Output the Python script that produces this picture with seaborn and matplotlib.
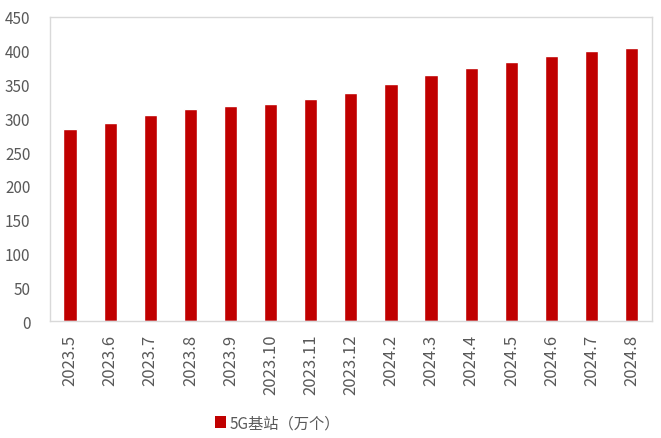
import pandas as pd
import seaborn as sns
import matplotlib.pyplot as plt
from matplotlib.patches import Patch

# Data
months = ['2023.5', '2023.6', '2023.7', '2023.8', '2023.9', '2023.10', '2023.11',
          '2023.12', '2024.2', '2024.3', '2024.4', '2024.5', '2024.6', '2024.7', '2024.8']
stations = [284.4, 293.7, 305.5, 313.1, 318.9, 321.5, 328.2,
            337.7, 350.9, 364.7, 374.8, 383.7, 391.7, 399.6, 404.2]
series_name = '5G基站（万个）'

df = pd.DataFrame({'month': months, 'value': stations})

sns.set_style('white')
plt.rcParams['font.family'] = ['Noto Sans CJK SC', 'DejaVu Sans']

fig = plt.figure(figsize=(6.61, 4.39), dpi=100)
ax = fig.add_axes([0.0756, 0.2665, 0.9104, 0.6925])

sns.barplot(data=df, x='month', y='value', color='#C00000', width=0.33,
            saturation=1, ax=ax)

ax.set_ylim(0, 450)
ax.set_yticks(range(0, 451, 50))
ax.set_xlim(-0.5, len(months) - 0.5)
ax.set_xlabel('')
ax.set_ylabel('')
ax.tick_params(axis='both', length=0, labelcolor='#595959')
ax.tick_params(axis='y', pad=14, labelsize=11)
ax.tick_params(axis='x', pad=9, labelsize=12)
plt.setp(ax.get_xticklabels(), rotation=90)
for s in ax.spines.values():
    s.set_color('#D9D9D9')
    s.set_linewidth(1)

handle = Patch(facecolor='#C00000', edgecolor='none')
fig.legend([handle], [series_name], loc='center', bbox_to_anchor=(0.42, 0.035),
           frameon=False, fontsize=11, handlelength=0.7, handleheight=0.9,
           handletextpad=0.2, labelcolor='#595959')

fig.savefig('out.png', dpi=100)
